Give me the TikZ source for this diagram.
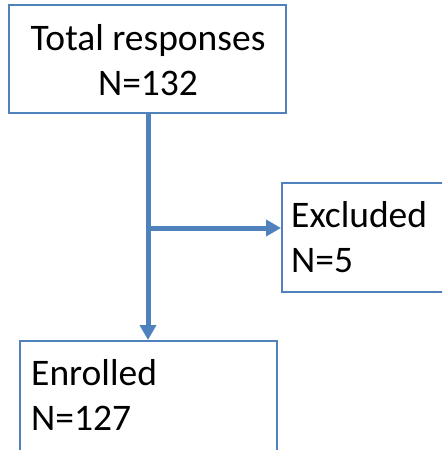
\documentclass[tikz,border=0pt]{standalone}
\usepackage{fontspec}
\setmainfont{Carlito}
\usetikzlibrary{arrows.meta}
\definecolor{officeblue}{HTML}{4F81BD}

\begin{document}
\begin{tikzpicture}[x=1pt,y=-1pt,
    flowbox/.style ={rectangle, draw=officeblue, line width=2pt, inner sep=0pt},
    flowtext/.style ={inner sep=0pt, font=\fontsize{37.5}{45}\selectfont},
    flowarrow/.style ={draw=officeblue, line width=5pt, -{Triangle[length=15pt,width=16pt]}}]
   \clip (0,0) rectangle (442,450);
   % boxes
   \node[flowbox, minimum width=277pt, minimum height=108pt] (total) at (147.5,59) {};
   \node[flowbox, minimum width=180pt, minimum height=109pt] (excl) at (372,237.2) {};
   \node[flowbox, minimum width=256.5pt, minimum height=130pt] (enrol) at (148.5,406) {};
   % texts
   \node[flowtext, anchor=base] (t1) at (148,50) {Total responses};
   \node[flowtext, anchor=base] (t2) at (148,95) {N=132};
   \node[flowtext, anchor=base west] (e1) at (291,227) {Excluded};
   \node[flowtext, anchor=base west] (e2) at (291,272) {N=5};
   \node[flowtext, anchor=base west] (n1) at (31,385) {Enrolled};
   \node[flowtext, anchor=base west] (n2) at (31,430) {N=127};
   % connectors
   \coordinate (split) at (148,228);
   \draw[flowarrow] (total.south -| split) -- (enrol.north -| split);
   \draw[flowarrow] (split) -- (excl.west |- split);
 \end{tikzpicture}
\end{document}
